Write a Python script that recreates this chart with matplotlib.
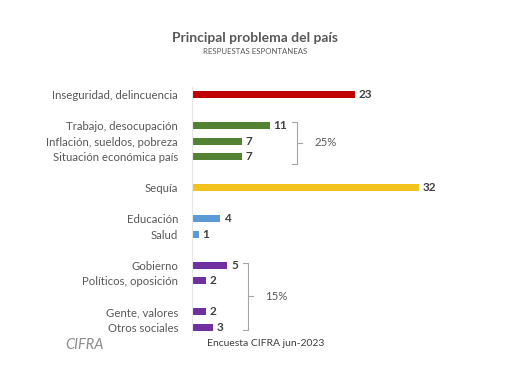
import matplotlib.pyplot as plt

# data
labels = ['Inseguridad, delincuencia', 'Trabajo, desocupación', 'Inflación, sueldos, pobreza',
          'Situación económica país', 'Sequía', 'Educación', 'Salud', 'Gobierno',
          'Políticos, oposición', 'Gente, valores', 'Otros sociales']
values = [23, 11, 7, 7, 32, 4, 1, 5, 2, 2, 3]
rows = [0, 2, 3, 4, 6, 8, 9, 11, 12, 14, 15]
colors = ['#C00000', '#548235', '#548235', '#548235', '#F2C31F', '#5B9BD5', '#5B9BD5',
          '#7030A0', '#7030A0', '#7030A0', '#7030A0']
groups = [('25%', 1.75, 4.45, 14.8), ('15%', 10.85, 15.15, 7.9)]

plt.rcParams['font.family'] = ['Lato', 'DejaVu Sans']
gray = '#595959'

fig = plt.figure(figsize=(5.13, 3.9), dpi=100)
ax = fig.add_axes([192 / 513, 1 - 335 / 390, 298 / 513, 248 / 390])

ax.barh(rows, values, height=0.42, color=colors)
for r, v in zip(rows, values):
    ax.text(v + 0.5, r, str(v), va='center', ha='left', fontsize=8.5,
            fontweight='bold', color='#404040')

ax.set_xlim(0, 42)
ax.set_ylim(15.5, -0.5)
ax.set_yticks(rows)
ax.set_yticklabels(labels, fontsize=8.2, color=gray)
ax.tick_params(axis='y', length=0, pad=10)
ax.set_xticks([])
for s in ['top', 'right', 'bottom']:
    ax.spines[s].set_visible(False)
ax.spines['left'].set_color('#e6e6e6')
ax.spines['left'].set_linewidth(0.8)

# brackets
for txt, y0, y1, x in groups:
    ym = (y0 + y1) / 2
    ax.plot([x - 0.7, x, x, x - 0.7], [y0, y0, y1, y1], color='#a6a6a6', lw=0.8,
            clip_on=False)
    ax.plot([x, x + 0.7], [ym, ym], color='#a6a6a6', lw=0.8, clip_on=False)
    ax.text(x + 2.4, ym, txt, va='center', ha='left', fontsize=8.2, color=gray)

fig.text(0.497, 1 - 38 / 390, 'Principal problema del país', ha='center', va='center',
         fontsize=10, fontweight='bold', color=gray)
fig.text(0.497, 1 - 52 / 390, 'RESPUESTAS ESPONTANEAS', ha='center', va='center',
         fontsize=5.6, color=gray)
fig.text(207 / 513, 1 - 343 / 390, 'Encuesta CIFRA jun-2023', ha='left', va='center',
         fontsize=7.5, color='#404040')
fig.text(65 / 513, 1 - 345 / 390, 'CIFRA', ha='left', va='center', fontsize=10.5,
         color='#8c8c8c', fontstyle='italic')

fig.savefig('out.png', dpi=100, facecolor='white')
